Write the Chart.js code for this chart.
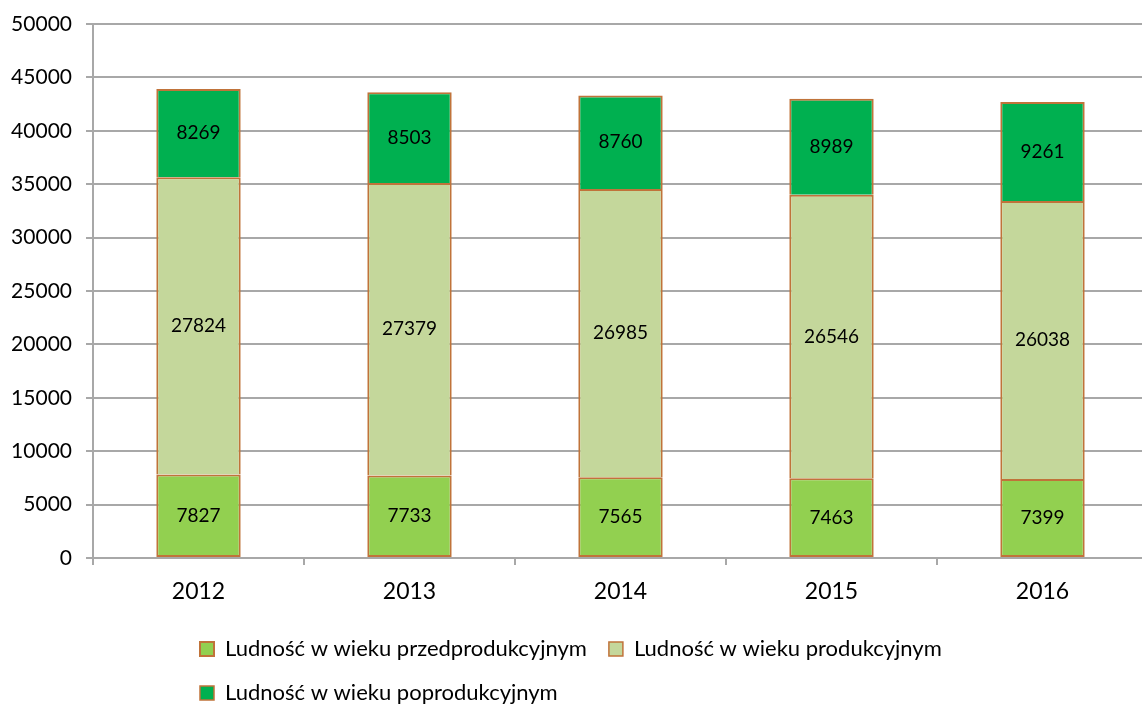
<!DOCTYPE html>
<html>
<head>
<meta charset="utf-8">
<script src="https://cdn.jsdelivr.net/npm/chart.js@4/dist/chart.umd.min.js"></script>
<style>
  html, body { margin: 0; padding: 0; background: #fff; overflow: hidden; }
  /* plot runs slightly past the right edge, like the original */
  #wrap { width: 1148px; height: 704px; }
</style>
</head>
<body>
<div id="wrap"><canvas id="chart"></canvas></div>
<script>
// values
const years = ['2012', '2013', '2014', '2015', '2016'];
const przedprodukcyjny = [7827, 7733, 7565, 7463, 7399];
const produkcyjny = [27824, 27379, 26985, 26546, 26038];
const poprodukcyjny = [8269, 8503, 8760, 8989, 9261];
const seriesNames = [
    'Ludność w wieku przedprodukcyjnym',
    'Ludność w wieku produkcyjnym',
    'Ludność w wieku poprodukcyjnym',
];

const FONT = 'Lato, "Open Sans", sans-serif';
const edge = '#C0733A';
const grid = '#A8A8A8';

function makeSet(label, data, color, bottomEdge) {
    return {
        label: label,
        data: data,
        backgroundColor: color,
        borderColor: edge,
        // only one line where two segments meet
        borderWidth: {top: 2, left: 2, right: 2, bottom: bottomEdge ? 2 : 0},
        borderSkipped: false,
        barPercentage: 0.4,
        categoryPercentage: 1,
    };
}

// writes each value in the middle of its bar segment
const valueLabels = {
    id: 'valueLabels',
    afterDatasetsDraw(chart) {
        const ctx = chart.ctx;
        ctx.save();
        ctx.font = '19px ' + FONT;
        ctx.fillStyle = '#000';
        ctx.textAlign = 'center';
        ctx.textBaseline = 'middle';
        chart.data.datasets.forEach((ds, i) => {
            chart.getDatasetMeta(i).data.forEach((bar, j) => {
                const p = bar.getProps(['x', 'y', 'base'], true);
                ctx.fillText(String(ds.data[j]), p.x, (p.y + p.base) / 2);
            });
        });
        ctx.restore();
    }
};

// legend wraps after the second item and its rows start at one left point
const legendPlace = {
    id: 'legendPlace',
    afterInit(chart) {
        const lg = chart.legend;
        const orig = lg.update.bind(lg);
        lg.update = (maxW, maxH, margins) => orig(Math.min(maxW, 800), maxH, margins);
    },
    afterLayout(chart) {
        const lg = chart.legend;
        const w = lg.right - lg.left;
        lg.left = 178;
        lg.right = lg.left + w;
        lg.top = 616;
    }
};

new Chart(document.getElementById('chart'), {
    type: 'bar',
    data: {
        labels: years,
        datasets: [
            makeSet(seriesNames[0], przedprodukcyjny, '#92D050', true),
            makeSet(seriesNames[1], produkcyjny, '#C4D79B', false),
            makeSet(seriesNames[2], poprodukcyjny, '#00B050', false),
        ],
    },
    options: {
        responsive: true,
        maintainAspectRatio: false,
        animation: false,
        layout: {
            padding: {top: 24, right: 0, bottom: 0, left: 0},
        },
        scales: {
            x: {
                stacked: true,
                afterFit: (axis) => { axis.height = 48; },
                grid: {
                    offset: true,
                    drawOnChartArea: false,
                    drawTicks: true,
                    tickLength: 7,
                    color: grid,
                    lineWidth: 2,
                },
                border: {color: grid, width: 2},
                ticks: {
                    color: '#000',
                    padding: 13,
                    font: {family: FONT, size: 23},
                },
            },
            y: {
                stacked: true,
                min: 0,
                max: 50000,
                afterFit: (axis) => {
                    axis.width = 93;
                    axis.paddingTop = 0;
                    axis.paddingBottom = 0;
                },
                grid: {
                    color: grid,
                    lineWidth: 2,
                    tickLength: 7,
                },
                border: {color: grid, width: 2},
                ticks: {
                    stepSize: 5000,
                    color: '#000',
                    padding: 14,
                    font: {family: FONT, size: 21},
                    callback: (v) => String(v),
                },
            },
        },
        plugins: {
            tooltip: {enabled: false},
            legend: {
                position: 'bottom',
                align: 'start',
                labels: {
                    color: '#000',
                    boxWidth: 14,
                    boxHeight: 14,
                    padding: 22,
                    font: {family: FONT, size: 22},
                },
            },
        },
    },
    plugins: [valueLabels, legendPlace],
});
</script>
</body>
</html>
